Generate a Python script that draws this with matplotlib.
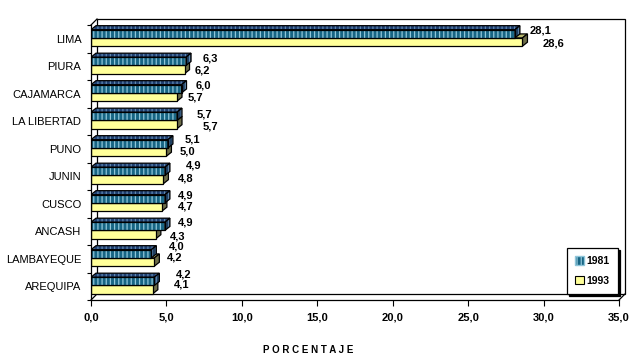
import matplotlib
matplotlib.use("Agg")
import matplotlib.pyplot as plt
import matplotlib.colors as mcolors
from matplotlib.patheffects import AbstractPathEffect, Normal
from matplotlib.path import Path
from matplotlib.transforms import IdentityTransform, ScaledTranslation
from matplotlib.patches import Patch, Rectangle
from matplotlib.lines import Line2D
import numpy as np

plt.rcParams['font.family'] = ['Liberation Sans', 'DejaVu Sans']
plt.rcParams['hatch.linewidth'] = 0.9

categories = ["LIMA", "PIURA", "CAJAMARCA", "LA LIBERTAD", "PUNO", "JUNIN",
              "CUSCO", "ANCASH", "LAMBAYEQUE", "AREQUIPA"]
values_1981 = [28.1, 6.3, 6.0, 5.7, 5.1, 4.9, 4.9, 4.9, 4.0, 4.2]
values_1993 = [28.6, 6.2, 5.7, 5.7, 5.0, 4.8, 4.7, 4.3, 4.2, 4.1]
series_names = ["1981", "1993"]
xticks = [0, 5, 10, 15, 20, 25, 30, 35]
xlabel = "P O R C E N T A J E"

# label placement (pixels, relative to bar end / category centre)
lab_dx_1981 = [15, 17, 14.5, 20, 17, 21, 13, 13, 18, 22]
lab_dy_1981 = [-8, -7.5, -8, -6.5, -9, -10.5, -8, -8.5, -12, -11.5]
lab_dx_1993 = [20.5, 10.5, 11, 26, 13.6, 14.6, 16, 14, 13, 21]
lab_dy_1993 = [5, 4.5, 4, 5.5, 3, 2.5, 3, 5.5, -1, -1.5]


class Extrude(AbstractPathEffect):
    """Draw a top face and right side face to mimic a 3D bar."""
    def __init__(self, dx, dy, top, side, hatch=None, hatch_color=None):
        super().__init__()
        self.dx, self.dy = dx, dy
        self.top = mcolors.to_rgba(top)
        self.side = mcolors.to_rgba(side)
        self.hatch = hatch
        self.hatch_color = hatch_color

    def draw_path(self, renderer, gc, tpath, affine, rgbFace=None):
        v = affine.transform(tpath.vertices)
        x0, x1 = v[:, 0].min(), v[:, 0].max()
        y0, y1 = v[:, 1].min(), v[:, 1].max()
        dx = renderer.points_to_pixels(self.dx)
        dy = renderer.points_to_pixels(self.dy)
        gc0 = renderer.new_gc()
        gc0.copy_properties(gc)
        gc0.set_hatch(self.hatch)
        if self.hatch_color is not None:
            gc0.set_hatch_color(mcolors.to_rgba(self.hatch_color))
        top = Path([(x0, y1), (x1, y1), (x1 + dx, y1 + dy), (x0 + dx, y1 + dy), (x0, y1)], closed=True)
        side = Path([(x1, y0), (x1 + dx, y0 + dy), (x1 + dx, y1 + dy), (x1, y1), (x1, y0)], closed=True)
        renderer.draw_path(gc0, top, IdentityTransform(), self.top)
        renderer.draw_path(gc0, side, IdentityTransform(), self.side)
        gc0.restore()


DPI = 100
PT = 72 / DPI
fig = plt.figure(figsize=(6.42, 3.64), dpi=DPI)
W, H = 642, 364
L, R, T, B = 91, 619, 25, 300
ax = fig.add_axes([L / W, 1 - B / H, (R - L) / W, (B - T) / H])

y = np.arange(len(categories))
h = 0.30
shift = -0.03
DX, DY = 5 * PT, 4 * PT

teal = "#176584"
stripe = "#8FC6DA"
yellow = "#FFFF99"

# 1993 bars (lower), drawn first
ax.barh(y + h / 2 + shift, values_1993, height=h, color=yellow, edgecolor="black",
        linewidth=0.9, zorder=2,
        path_effects=[Extrude(DX, DY, "#B8B870", "#6E6E4A"), Normal()])

# 1981 bars (upper) with vertical stripes
ax.barh(y - h / 2 + shift, values_1981, height=h, color=teal, edgecolor=stripe,
        hatch="||||", linewidth=0, zorder=3)
ax.barh(y - h / 2 + shift, values_1981, height=h, fill=False, edgecolor="black",
        linewidth=0.9, zorder=4,
        path_effects=[Extrude(DX, DY, "#1F3F70", "#1F3F60", hatch="||||",
                              hatch_color="#5F88B0"), Normal()])

# value labels
for i in range(len(categories)):
    ax.annotate(f"{values_1981[i]:.1f}".replace(".", ","),
                xy=(values_1981[i], y[i]),
                xytext=(lab_dx_1981[i] * PT, -lab_dy_1981[i] * PT),
                textcoords="offset points", ha="left", va="center",
                fontsize=8, fontweight="bold", zorder=6)
    ax.annotate(f"{values_1993[i]:.1f}".replace(".", ","),
                xy=(values_1993[i], y[i]),
                xytext=(lab_dx_1993[i] * PT, -lab_dy_1993[i] * PT),
                textcoords="offset points", ha="left", va="center",
                fontsize=8, fontweight="bold", zorder=6)

ax.set_xlim(0, 35)
ax.set_ylim(len(categories) - 0.5, -0.5)
ax.set_xticks(xticks)
ax.set_xticklabels([f"{t:.1f}".replace(".", ",") for t in xticks],
                   fontsize=8, fontweight="bold")
ax.set_yticks(y)
ax.set_yticklabels(categories, fontsize=8)
ax.set_yticks(np.arange(len(categories) + 1) - 0.5, minor=True)
ax.tick_params(axis="y", which="major", length=0, pad=7)
ax.tick_params(axis="y", which="minor", length=3, width=0.8, direction="out")
ax.tick_params(axis="x", which="major", length=4, width=0.8, direction="out", pad=5)

for s in ["top", "right"]:
    ax.spines[s].set_visible(False)
for s in ["left", "bottom"]:
    ax.spines[s].set_linewidth(0.9)
    ax.spines[s].set_zorder(5)

# back wall frame offset up-right (3D look)
off = ScaledTranslation(6 / DPI, 6 / DPI, fig.dpi_scale_trans)
wall = Rectangle((0, 0), 1, 1, transform=ax.transAxes + off, fill=False,
                 edgecolor="black", linewidth=0.9, clip_on=False, zorder=1)
ax.add_patch(wall)
for (cx, cy) in [(0, 0), (0, 1), (1, 0)]:
    ax.add_line(Line2D([0, 6 / DPI], [0, 6 / DPI],
                       transform=fig.dpi_scale_trans + ScaledTranslation(cx, cy, ax.transAxes),
                       color="black", linewidth=0.9, clip_on=False, zorder=1))

fig.text(308 / W, 1 - 350 / H, xlabel, ha="center", va="center",
         fontsize=7, fontweight="bold")

handles = [Patch(facecolor=teal, edgecolor=stripe, hatch="||||"),
           Patch(facecolor=yellow, edgecolor="black", linewidth=0.8)]
leg = fig.legend(handles, series_names, loc="upper left",
                 bbox_to_anchor=(567 / W, 1 - 248 / H),
                 prop={"size": 7.5, "weight": "bold"},
                 frameon=True, fancybox=False,
                 shadow={"ox": 1.6, "oy": -1.6, "facecolor": "black",
                         "edgecolor": "black", "alpha": 1},
                 handlelength=0.8, handleheight=0.9, handletextpad=0.3,
                 labelspacing=0.9, borderpad=0.8, borderaxespad=0)
leg.get_frame().set_edgecolor("black")
leg.get_frame().set_linewidth(0.9)

fig.savefig("out.png", dpi=DPI)
